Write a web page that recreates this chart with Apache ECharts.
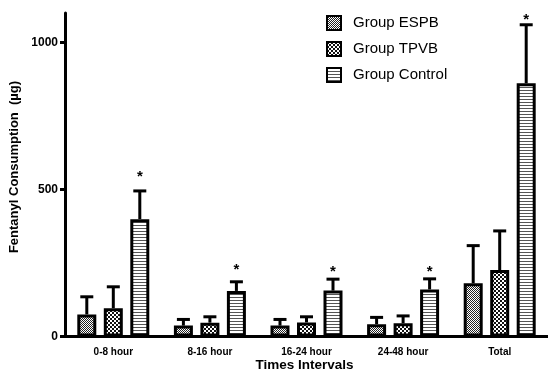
<!DOCTYPE html>
<html><head><meta charset="utf-8">
<script src="https://cdn.jsdelivr.net/npm/echarts@6/dist/echarts.min.js"></script>
<style>html,body{margin:0;padding:0;background:#fff}#c{width:548px;height:372px}</style>
</head><body><div id="c"></div>
<script>
var categories = ['0-8 hour', '8-16 hour', '16-24 hour', '24-48 hour', 'Total'];
var groupNames = ['Group ESPB', 'Group TPVB', 'Group Control'];
var espb = [75, 37, 37, 42, 181];
var tpvb = [96, 47, 48, 45, 226];
var control = [399, 155, 156, 160, 861];
var espbErr = [60, 21, 21, 23, 128];
var tpvbErr = [73, 20, 19, 25, 133];
var controlErr = [96, 31, 39, 36, 199];
var starLevels = [556, 237, 233, 233, 1090];
var yTicks = [0, 500, 1000];

function makePattern(kind) {
  var c = document.createElement('canvas');
  var ctx;
  if (kind === 0) {
    c.width = 2; c.height = 2; ctx = c.getContext('2d');
    ctx.fillStyle = '#fff'; ctx.fillRect(0, 0, 2, 2);
    ctx.fillStyle = '#222'; ctx.fillRect(0, 0, 1, 1); ctx.fillRect(1, 1, 1, 1);
  } else if (kind === 1) {
    c.width = 4; c.height = 4; ctx = c.getContext('2d');
    ctx.fillStyle = '#fff'; ctx.fillRect(0, 0, 4, 4);
    ctx.fillStyle = '#111'; ctx.fillRect(0, 0, 2, 2); ctx.fillRect(2, 2, 2, 2);
  } else {
    c.width = 3; c.height = 3; ctx = c.getContext('2d');
    ctx.fillStyle = '#fff'; ctx.fillRect(0, 0, 3, 3);
    ctx.fillStyle = '#555'; ctx.fillRect(0, 0, 3, 1);
  }
  return { image: c, repeat: 'repeat' };
}

var FONT = "'Liberation Sans', Arial, sans-serif";
var BAR_W = 19, BAR_GAP = 26.5 / 19 - 1;
var means = [espb, tpvb, control];
var errs = [espbErr, tpvbErr, controlErr];

var series = [];
groupNames.forEach(function (name, gi) {
  series.push({
    name: name, type: 'bar', data: means[gi], barWidth: BAR_W, barGap: (BAR_GAP * 100) + '%',
    itemStyle: { color: makePattern(gi), borderColor: '#000', borderWidth: 3 },
    z: 3
  });
});
groupNames.forEach(function (name, gi) {
  var data = means[gi].map(function (v, i) { return [i, v, errs[gi][i], gi === 2 ? starLevels[i] : -1]; });
  series.push({
    type: 'custom', name: name + ' err', data: data, z: 2, silent: true,
    renderItem: function (params, api) {
      var cat = api.value(0), v = api.value(1), e = api.value(2), star = api.value(3);
      var base = api.coord([cat, v]);
      var top = api.coord([cat, v + e]);
      var off = (gi - 1) * BAR_W * (1 + BAR_GAP);
      var x = base[0] + off;
      var children = [
        { type: 'line', shape: { x1: x, y1: base[1], x2: x, y2: top[1] }, style: { stroke: '#000', lineWidth: 3 } },
        { type: 'line', shape: { x1: x - 6.5, y1: top[1], x2: x + 6.5, y2: top[1] }, style: { stroke: '#000', lineWidth: 3 } }
      ];
      if (star >= 0) {
        var sp = api.coord([cat, star]);
        children.push({ type: 'text', style: { x: x, y: sp[1] + 3.5, text: '*', fill: '#000', font: 'bold 15px ' + FONT, align: 'center', verticalAlign: 'middle' } });
      }
      return { type: 'group', children: children };
    }
  });
});

var chart = echarts.init(document.getElementById('c'), null, { renderer: 'canvas' });
chart.setOption({
  animation: false,
  backgroundColor: '#fff',
  grid: { left: 65, right: 0, top: 13, bottom: 35.5, containLabel: false, outerBoundsMode: 'none' },
  legend: {
    data: groupNames, orient: 'vertical', left: 326, top: 15, padding: 0, itemWidth: 14, itemHeight: 14, itemGap: 10,
    icon: 'rect',
    textStyle: { fontFamily: FONT, fontSize: 15, color: '#000', padding: [0, 0, 0, 7] },
    itemStyle: { borderColor: '#000', borderWidth: 2 }
  },
  graphic: [{
    type: 'text', x: 14.5, y: 167, rotation: Math.PI / 2, silent: true,
    style: { text: 'Fentanyl Consumption  (\u00b5g)', font: 'bold 13px ' + FONT, fill: '#000', align: 'center', verticalAlign: 'middle' }
  }, {
    type: 'text', x: 304.5, y: 365.5, silent: true,
    style: { text: 'Times Intervals', font: 'bold 13.5px ' + FONT, fill: '#000', align: 'center', verticalAlign: 'middle' }
  }],
  xAxis: {
    type: 'category', data: categories,
    axisLine: { lineStyle: { color: '#000', width: 3 } },
    axisTick: { alignWithLabel: true, length: 5, lineStyle: { color: '#000', width: 3 } },
    axisLabel: { fontFamily: FONT, fontSize: 10, fontWeight: 'bold', color: '#000', margin: 11 }
  },
  yAxis: {
    type: 'value', min: 0, max: 1100,
    splitLine: { show: false },
    axisLine: { show: true, lineStyle: { color: '#000', width: 3 } },
    axisTick: { show: true, length: 5, customValues: yTicks, lineStyle: { color: '#000', width: 3 } },
    axisLabel: { fontFamily: FONT, fontSize: 12, fontWeight: 'bold', color: '#000', margin: 7, customValues: yTicks,
      formatter: function (v) { return String(v); } }
  },
  series: series
});
</script></body></html>
